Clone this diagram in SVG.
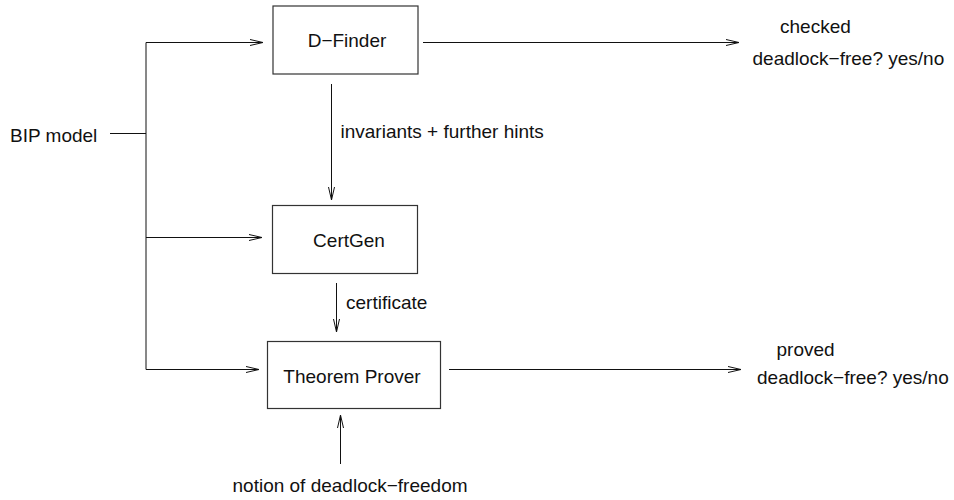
<svg xmlns="http://www.w3.org/2000/svg" width="954" height="500" viewBox="0 0 954 500">
<style>
text{font-family:"Liberation Sans",Arial,sans-serif;font-size:19px;fill:#111}
.box{fill:#fff;stroke:#333;stroke-width:1.2}
.ln{fill:none;stroke:#111;stroke-width:1}
</style>
<defs>
<marker id="ah" markerUnits="userSpaceOnUse" markerWidth="14" markerHeight="8" refX="13" refY="3.5" orient="auto" overflow="visible">
<path d="M0,0.5 L13,3.5 L0,6.5" fill="none" stroke="#111" stroke-width="1"/>
</marker>
</defs>
<rect width="954" height="500" fill="#fff"/>
<g id="connectors">
<line class="ln" x1="110" y1="133.5" x2="146" y2="133.5"/>
<line class="ln" x1="146" y1="42.5" x2="146" y2="369.5"/>
<line class="ln" x1="146" y1="42.5" x2="263" y2="42.5" marker-end="url(#ah)"/>
<line class="ln" x1="146" y1="237.5" x2="262" y2="237.5" marker-end="url(#ah)"/>
<line class="ln" x1="146" y1="369.5" x2="259" y2="369.5" marker-end="url(#ah)"/>
<line class="ln" x1="423" y1="42.5" x2="739" y2="42.5" marker-end="url(#ah)"/>
<line class="ln" x1="331.5" y1="84" x2="331.5" y2="200" marker-end="url(#ah)"/>
<line class="ln" x1="336.5" y1="283" x2="336.5" y2="332" marker-end="url(#ah)"/>
<line class="ln" x1="449" y1="369.5" x2="741" y2="369.5" marker-end="url(#ah)"/>
<line class="ln" x1="340.5" y1="464" x2="340.5" y2="415" marker-end="url(#ah)"/>
</g>
<g id="bip"><text x="10" y="142">BIP model</text></g>
<g id="dfinder">
<rect class="box" x="273" y="6" width="145" height="68"/>
<text x="347" y="47" text-anchor="middle">D−Finder</text>
</g>
<g id="certgen">
<rect class="box" x="272.5" y="205.5" width="145" height="68"/>
<text x="349" y="247" text-anchor="middle">CertGen</text>
</g>
<g id="prover">
<rect class="box" x="267.5" y="341.5" width="173" height="67"/>
<text x="352" y="382.5" text-anchor="middle">Theorem Prover</text>
</g>
<g id="labels">
<text x="340.5" y="138">invariants + further hints</text>
<text x="346" y="309">certificate</text>
<text x="780" y="33">checked</text>
<text x="752.5" y="65">deadlock−free? yes/no</text>
<text x="776.5" y="356">proved</text>
<text x="757" y="384">deadlock−free? yes/no</text>
<text x="232.5" y="491.5">notion of deadlock−freedom</text>
</g>
</svg>
